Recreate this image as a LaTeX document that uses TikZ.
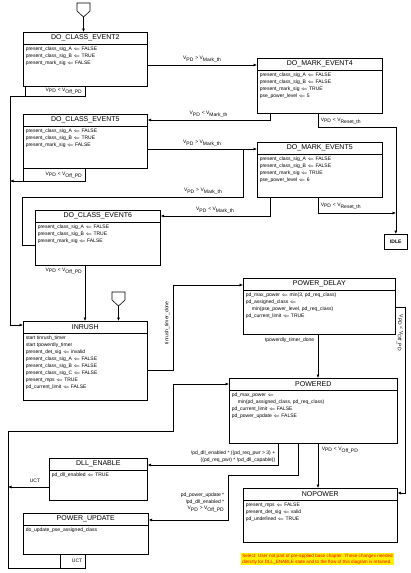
\documentclass[tikz,border=0pt]{standalone}
\usepackage{fontspec}
\setmainfont{Liberation Sans}
\usetikzlibrary{arrows.meta,calc}
\newcommand\stbox[6]{%
  \node[state, minimum width=#3pt, minimum height=#4pt] (#1) at #2 {};
  \node[ttl] (#1-t) at ($(#1.north)+(0,6)$) {#5};
  \draw[line width=0.9pt] ($(#1.north west)+(0,12)$) -- ($(#1.north east)+(0,12)$);
  \node[body] (#1-b) at ($(#1.north west)+(2.5,14.5)$) {#6};
}
\newcommand\LA{$\Leftarrow$}
\begin{document}
\begin{tikzpicture}[x=1pt,y=-1pt,
  line width=0.6pt,
  state/.style={draw, rectangle, inner sep=0, anchor=north west},
  ttl/.style={font=\fontsize{7}{8}\selectfont, inner sep=0},
  body/.style={font=\fontsize{5}{7}\selectfont, align=left, inner sep=0, anchor=north west},
  cond/.style={font=\fontsize{5}{6.5}\selectfont, inner sep=0.5pt},
  arr/.style={-{Latex[length=3.5pt,width=3pt]}},
]
\useasboundingbox (0,0) rectangle (411,573);

% states
\stbox{ce2}{(23,32)}{124}{54}{DO\_CLASS\_EVENT2}{present\_class\_sig\_A \LA{} FALSE\\present\_class\_sig\_B \LA{} TRUE\\present\_mark\_sig \LA{} FALSE}
\stbox{me4}{(257,58)}{125}{55}{DO\_MARK\_EVENT4}{present\_class\_sig\_A \LA{} FALSE\\present\_class\_sig\_B \LA{} FALSE\\present\_mark\_sig \LA{} TRUE\\pse\_power\_level \LA{} 5}
\stbox{ce5}{(23,114)}{124}{54}{DO\_CLASS\_EVENT5}{present\_class\_sig\_A \LA{} FALSE\\present\_class\_sig\_B \LA{} TRUE\\present\_mark\_sig \LA{} FALSE}
\stbox{me5}{(257,142)}{125}{55}{DO\_MARK\_EVENT5}{present\_class\_sig\_A \LA{} FALSE\\present\_class\_sig\_B \LA{} FALSE\\present\_mark\_sig \LA{} TRUE\\pse\_power\_level \LA{} 6}
\stbox{ce6}{(35,210)}{125}{55}{DO\_CLASS\_EVENT6}{present\_class\_sig\_A \LA{} FALSE\\present\_class\_sig\_B \LA{} TRUE\\present\_mark\_sig \LA{} FALSE}
\stbox{inrush}{(23,321)}{124}{79}{INRUSH}{start tinrush\_timer\\start tpowerdly\_timer\\present\_det\_sig \LA{} invalid\\present\_class\_sig\_A \LA{} FALSE\\present\_class\_sig\_B \LA{} FALSE\\present\_class\_sig\_C \LA{} FALSE\\present\_mps \LA{} TRUE\\pd\_current\_limit \LA{} FALSE}
\stbox{pdelay}{(243,278)}{152}{56}{POWER\_DELAY}{pd\_max\_power \LA{} min(3, pd\_req\_class)\\pd\_assigned\_class \LA{}\\\hspace*{6pt}min(pse\_power\_level, pd\_req\_class)\\pd\_current\_limit \LA{} TRUE}
\stbox{powered}{(229,378)}{168}{65}{POWERED}{pd\_max\_power \LA{}\\\hspace*{6pt}min(pd\_assigned\_class, pd\_req\_class)\\pd\_current\_limit \LA{} FALSE\\pd\_power\_update \LA{} FALSE}
\stbox{nopower}{(243,488)}{154}{54}{NOPOWER}{present\_mps \LA{} FALSE\\present\_det\_sig \LA{} valid\\pd\_undefined \LA{} TRUE}
\stbox{dll}{(49,458)}{98}{42}{DLL\_ENABLE}{pd\_dll\_enabled \LA{} TRUE}
\stbox{pupdate}{(23,513)}{125}{41}{POWER\_UPDATE}{do\_update\_pse\_assigned\_class}
\node[state, minimum width=23pt, minimum height=15pt, font=\bfseries\fontsize{5}{6}\selectfont] (idle) at (384,234) {IDLE};

% entry connectors
\draw (77,3) -- (90,3) -- (90,11) -- (83.5,17) -- (77,11) -- cycle;
\coordinate (p1) at (83.5,17);
\draw[arr] (p1) -- (p1 |- ce2.north);
\draw (112,292) -- (125,292) -- (125,300) -- (118.5,306) -- (112,300) -- cycle;
\coordinate (p2) at (118.5,306);
\draw[arr] (p2) -- (p2 |- inrush.north);

% transitions
\draw[arr] (ce2.east |- 0,65) -- node[cond, above=1.5pt] {V\textsubscript{PD} > V\textsubscript{Mark\_th}} (me4.west |- 0,65);
\draw[arr] (me4.south -| 270,0) -- (270,120) -- node[cond, above=1.5pt] {V\textsubscript{PD} < V\textsubscript{Mark\_th}} (ce5.east |- 0,120);
\draw[arr] (me4.south -| 318,0) -- (318,127) -| (idle.north);
\node[cond, anchor=west] at (320,121) {V\textsubscript{PD} < V\textsubscript{Reset\_th}};
\draw[arr] (ce2.south -| 85,0) -- (85,96) -| (10,325) -- (inrush.west |- 0,325);
\draw (ce2.south -| 25,0) -- (25,96);
\node[cond, anchor=east] at (83,91) {V\textsubscript{PD} < V\textsubscript{Off\_PD}};

\draw[arr] (ce5.east |- 0,149) -- node[cond, above=1.5pt] {V\textsubscript{PD} > V\textsubscript{Mark\_th}} (me5.west |- 0,149);
\draw[arr] (ce5.south -| 85,0) -- (85,181) -- (10,181);
\draw (ce5.south west) -- (ce5.south west |- 0,181);
\node[cond, anchor=east] at (83,175) {V\textsubscript{PD} < V\textsubscript{Off\_PD}};

\draw[arr] (me5.south -| 270,0) -- (270,216) -- node[cond, above=1.5pt] {V\textsubscript{PD} < V\textsubscript{Mark\_th}} (ce6.east |- 0,216);
\draw[arr] (me5.south -| 318,0) -- (318,213) -- (396,213);
\node[cond, anchor=west] at (320,206) {V\textsubscript{PD} < V\textsubscript{Reset\_th}};

\draw (ce6.west |- 0,245) -- (22,245) -- (22,197) -- node[cond, above=1.5pt, pos=0.82] {V\textsubscript{PD} > V\textsubscript{Mark\_th}} (243,197) -- (243,149);
\draw[arr] (ce6.south -| 85,0) -- (inrush.north -| 85,0);
\node[cond, anchor=east] at (83,271) {V\textsubscript{PD} < V\textsubscript{Off\_PD}};

\draw[arr] (inrush.east |- 0,370) -- (173,370) -- (173,285) -- (pdelay.west |- 0,285);
\node[cond, rotate=90] at (167,323) {tinrush\_timer\_done};

\draw[arr] (pdelay.south -| 318,0) -- (powered.north -| 318,0);
\node[cond, anchor=east] at (315,340) {tpowerdly\_timer\_done};

\draw[arr] (pdelay.east |- 0,307) -- (405,307) -- (405,493) -- (nopower.east |- 0,493);
\node[cond, rotate=-90] at (400,333) {V\textsubscript{PD} < V\textsubscript{Off\_PD}};

\draw[arr] (powered.south -| 318,0) -- (nopower.north -| 318,0);
\node[cond, anchor=west] at (321,450) {V\textsubscript{PD} < V\textsubscript{Off\_PD}};

\draw[arr] (powered.south -| 278,0) -- (278,465) -- (dll.east |- 0,465);
\node[cond, align=right, anchor=south east] at (276,463) {!pd\_dll\_enabled * ((pd\_req\_pwr > 3) +\\((pd\_req\_pwr) * !pd\_dll\_capable))};

\draw[arr] (powered.south -| 298,0) -- (298,475) -- (228,475) -- (228,520) -- (pupdate.east |- 0,520);
\node[cond, align=right, anchor=east] at (225,503) {pd\_power\_update *\\!pd\_dll\_enabled *\\V\textsubscript{PD} > V\textsubscript{Off\_PD}};

\draw[arr] (dll.west |- 0,487) -- (8,487);
\node[cond] at (35,481) {UCT};

\draw[arr] (pupdate.south -| 85,0) -- (85,568) -- (8,568) -- (8,431) -- (173,431) -- (173,384) -- (powered.west |- 0,384);
\draw (pupdate.south -| 60,0) -- (60,568);
\node[cond, anchor=east] at (83,561) {UCT};

% note
\node[fill=yellow, text=red, font=\fontsize{4.6}{5.5}\selectfont, align=left, inner sep=1pt, anchor=north west] (note) at (241,553) {Select: User not part of pre-applied base chapter. These changes needed\\directly for DLL\_ENABLE state and to the flow of this diagram is retained.};
\end{tikzpicture}
\end{document}
